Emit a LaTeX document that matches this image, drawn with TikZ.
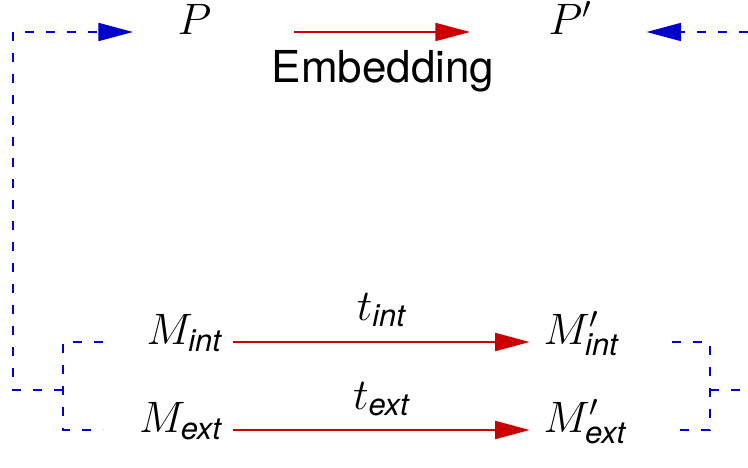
\RequirePackage{fix-cm}
\documentclass[tikz,border=0pt]{standalone}
\usepackage{amsmath}
\usepackage{fontspec}
\setsansfont{TeX Gyre Heros}
\usetikzlibrary{arrows.meta,calc}

\tikzset{every picture/.style={line width=0.75pt}}
\tikzset{
lbl/.style={inner sep=0pt, text=black, font=\fontsize{33}{40}\selectfont},
maparrow/.style={color={rgb, 255:red, 204; green, 0; blue, 0 }, line width=1.5, -{Triangle[length=26pt,width=13.5pt]}},
linkdash/.style={color={rgb, 255:red, 0; green, 0; blue, 204 }, line width=1.5, dash pattern={on 6.75pt off 9pt}},
linkarrow/.style={linkdash, -{Triangle[length=26pt,width=13.5pt]}}}

\begin{document}
\begin{tikzpicture}[x=0.75pt,y=0.75pt,yscale=-1,xscale=1]
\clip (0,0) rectangle (748,467);

% Text Node
\node[lbl, anchor=mid west] (P) at (177,32) {$P$};
% Text Node
\node[lbl, anchor=mid west] (Pp) at (548,32) {$P'$};
% Text Node
\node[lbl, font=\fontsize{33}{40}\selectfont\sffamily] (emb) at (383,71) {Embedding};
% Text Node
\node[lbl, anchor=mid east] (Mint) at (222,342) {$M_{\textsf{\itshape int}}$};
% Text Node
\node[lbl, anchor=mid east] (Mext) at (222,430) {$M_{\textsf{\itshape ext}}$};
% Text Node
\node[lbl, anchor=mid west] (Mpint) at (543,342) {$M'_{\textsf{\itshape int}}$};
% Text Node
\node[lbl, anchor=mid west] (Mpext) at (543,430) {$M'_{\textsf{\itshape ext}}$};

%Straight Lines
\draw[maparrow] ([xshift=62pt]P.mid east) -- ([xshift=-58.5pt]Pp.mid west);
\draw[maparrow] ([xshift=8pt]Mint.mid east) -- node[lbl, above=10.5pt] (tint) {$t_{\textsf{\itshape int}}$} ([xshift=-10pt]Mpint.mid west);
\draw[maparrow] ([xshift=8pt]Mext.mid east) -- node[lbl, above=9.5pt] (text) {$t_{\textsf{\itshape ext}}$} ([xshift=-10pt]Mpext.mid west);

%Dashed Lines
\coordinate (lj) at (63,390);
\coordinate (rj) at (710,390);
\draw[linkdash] ($(lj |- Mint.mid west)+(40,0)$) -| (lj) |- ($(lj |- Mext.mid west)+(40,0)$);
\draw[linkarrow] (lj) -- ++(-50,0) |- ([xshift=-33pt]P.mid west);
\draw[linkdash] ($(rj |- Mpint.mid east)+(-38,0)$) -| (rj) |- ($(rj |- Mpext.mid east)+(-38,0)$);
\draw[linkarrow] (rj) -- ++(50,0) |- ([xshift=41pt]Pp.mid east);

\end{tikzpicture}
\end{document}
